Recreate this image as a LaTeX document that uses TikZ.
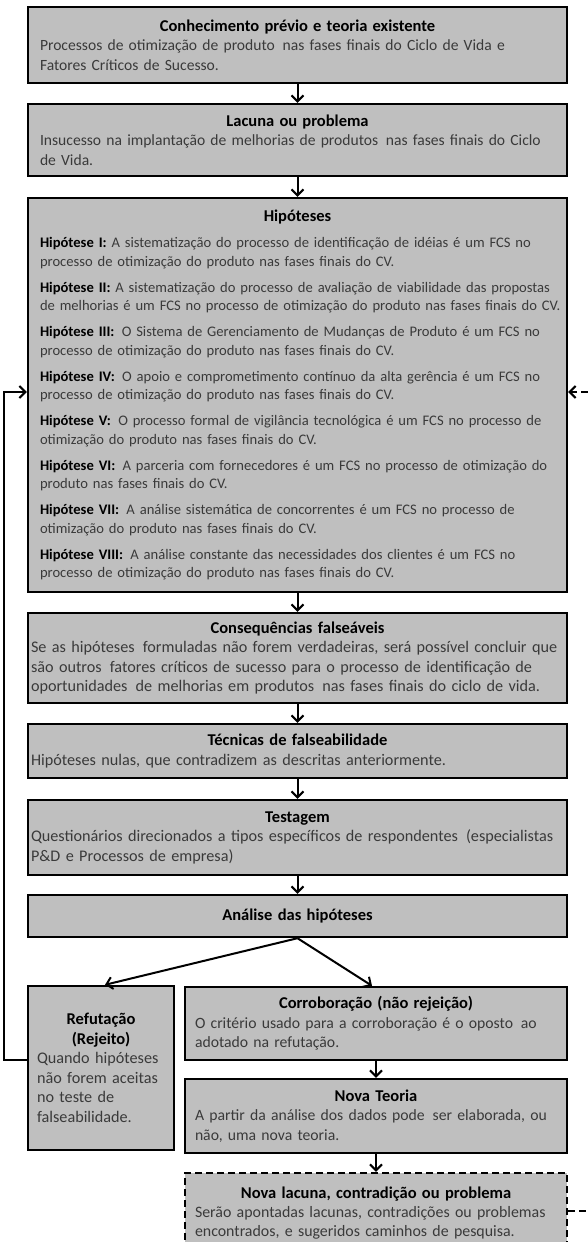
\documentclass[tikz,border=0pt]{standalone}
\usepackage{fontspec}
\setmainfont{Carlito}
\usetikzlibrary{arrows.meta}
\definecolor{boxgray}{HTML}{BFBFBF}
\definecolor{txtgray}{HTML}{3A3A3A}
\setlength{\parindent}{0pt}
\newcommand{\ttl}[1]{\makebox[\hsize][c]{\color{black}\fontsize{16.5}{19.5}\selectfont\bfseries #1}\par}
\newcommand{\hl}[1]{{\color{black}\bfseries #1}}
\begin{document}
\begin{tikzpicture}[x=1pt,y=-1pt,
  box/.style={draw=black, line width=2.4pt, fill=boxgray, inner sep=0pt,
    align=left, text=txtgray},
  wide/.style={box, minimum width=539pt},
  half/.style={box, minimum width=382pt, text width=362pt},
  fA/.style={font=\fontsize{15.6}{19.5}\selectfont},
  fB/.style={font=\fontsize{16.2}{19.5}\selectfont},
  fC/.style={font=\fontsize{15.7}{19.5}\selectfont},
  fD/.style={font=\fontsize{16.2}{19.5}\selectfont},
  fE/.style={font=\fontsize{15.9}{19}\selectfont},
  conn/.style={line width=2pt, -{Straight Barb[length=6pt,width=12pt]}},
  dashline/.style={dash pattern=on 7pt off 4pt},
]
\useasboundingbox (0,0) rectangle (588,1242);
\clip (0,0) rectangle (588,1242);

\node[wide, fA, text width=515pt, minimum height=76pt] (kn) at (297.5,45)
 {\ttl{Conhecimento prévio e teoria existente}\mbox{Processos de otimização de produto\, nas fases finais do Ciclo de Vida e}\\\mbox{Fatores Críticos de Sucesso.}};

\node[wide, fA, text width=515pt, minimum height=72pt] (lac) at (297.5,140)
 {\ttl{Lacuna ou problema}\mbox{Insucesso na implantação de melhorias de produtos\, nas fases finais do Ciclo}\\\mbox{de Vida.}};

\node[wide, text width=515pt, minimum height=394pt, font=\fontsize{14.6}{18.5}\selectfont] (hip) at (297.5,395)
 {\setlength{\parskip}{7.5pt}\ttl{Hipóteses}
 \mbox{\hl{Hipótese I:} A sistematização do processo de identificação de idéias é um FCS no}\\\mbox{processo de otimização do produto nas fases finais do CV.}\par
 \mbox{\hl{Hipótese II:} A sistematização do processo de avaliação de viabilidade das propostas}\\\mbox{de melhorias é um FCS no processo de otimização do produto nas fases finais do CV.}\par
 \mbox{\hl{Hipótese III:}\enspace O Sistema de Gerenciamento de Mudanças de Produto é um FCS no}\\\mbox{processo de otimização do produto nas fases finais do CV.}\par
 \mbox{\hl{Hipótese IV:}\enspace O apoio e comprometimento contínuo da alta gerência é um FCS no}\\\mbox{processo de otimização do produto nas fases finais do CV.}\par
 \mbox{\hl{Hipótese V:}\enspace O processo formal de vigilância tecnológica é um FCS no processo de}\\\mbox{otimização do produto nas fases finais do CV.}\par
 \mbox{\hl{Hipótese VI:}\enspace A parceria com fornecedores é um FCS no processo de otimização do}\\\mbox{produto nas fases finais do CV.}\par
 \mbox{\hl{Hipótese VII:}\enspace A análise sistemática de concorrentes é um FCS no processo de}\\\mbox{otimização do produto nas fases finais do CV.}\par
 \mbox{\hl{Hipótese VIII:}\enspace A análise constante das necessidades dos clientes é um FCS no}\\\mbox{processo de otimização do produto nas fases finais do CV.}};

\node[wide, fB, text width=533pt, minimum height=90pt] (con) at (297.5,658)
 {\ttl{Consequências falseáveis}\mbox{Se as hipóteses\, formuladas não forem verdadeiras, será possível concluir que}\\\mbox{são outros\, fatores críticos de sucesso para o processo de identificação de}\\\mbox{oportunidades\, de melhorias em produtos\, nas fases finais do ciclo de vida.}};

\node[wide, fB, text width=533pt, minimum height=54pt] (tec) at (297.5,751)
 {\ttl{Técnicas de falseabilidade}\mbox{Hipóteses nulas, que contradizem as descritas anteriormente.}};

\node[wide, fB, text width=533pt, minimum height=75pt] (tes) at (297.5,837.5)
 {\ttl{Testagem}\mbox{Questionários direcionados a tipos específicos de respondentes\, (especialistas}\\\mbox{P\&D e Processos de empresa)}};

\node[wide, fB, text width=533pt, minimum height=42pt] (ana) at (297.5,916)
 {\ttl{Análise das hipóteses}};

\node[box, fD, minimum width=146pt, text width=128pt, minimum height=164pt] (ref) at (101,1068)
 {\ttl{Refutação}\ttl{(Rejeito)}\mbox{Quando hipóteses}\\\mbox{não forem aceitas}\\\mbox{no teste de}\\\mbox{falseabilidade.}};

\node[half, fC, minimum height=73pt] (cor) at (376,1023.5)
 {\ttl{Corroboração (não rejeição)}\mbox{O critério usado para a corroboração é o oposto\, ao}\\\mbox{adotado na refutação.}};

\node[half, fC, minimum height=74pt] (nt) at (376,1116)
 {\ttl{Nova Teoria}\mbox{A partir da análise dos dados pode\, ser elaborada, ou}\\\mbox{não, uma nova teoria.}};

\node[half, fE, dashline, minimum height=100pt] (nl) at (376,1223)
 {\ttl{Nova lacuna, contradição ou problema}\mbox{Serão apontadas lacunas, contradições ou problemas}\\\mbox{encontrados, e sugeridos caminhos de pesquisa.}\par\vspace*{20pt}};

\draw[conn] (kn) -- (lac);
\draw[conn] (lac) -- (hip);
\draw[conn] (hip) -- (con);
\draw[conn] (con) -- (tec);
\draw[conn] (tec) -- (tes);
\draw[conn] (tes) -- (ana);
\draw[conn] (ana.south) -- ([xshift=4pt]ref.north);
\draw[conn] (ana.south) -- ([xshift=-4pt]cor.north);
\draw[conn] (cor) -- (nt);
\draw[conn] (nt) -- (nl);
\draw[conn] ([yshift=8pt]ref.west) -- ++(-23,0) |- ([yshift=3pt]hip.west);
\draw[conn, dashline] ([yshift=12pt]nl.east) -- ++(24,0) |- ([yshift=3pt]hip.east);
\end{tikzpicture}
\end{document}
